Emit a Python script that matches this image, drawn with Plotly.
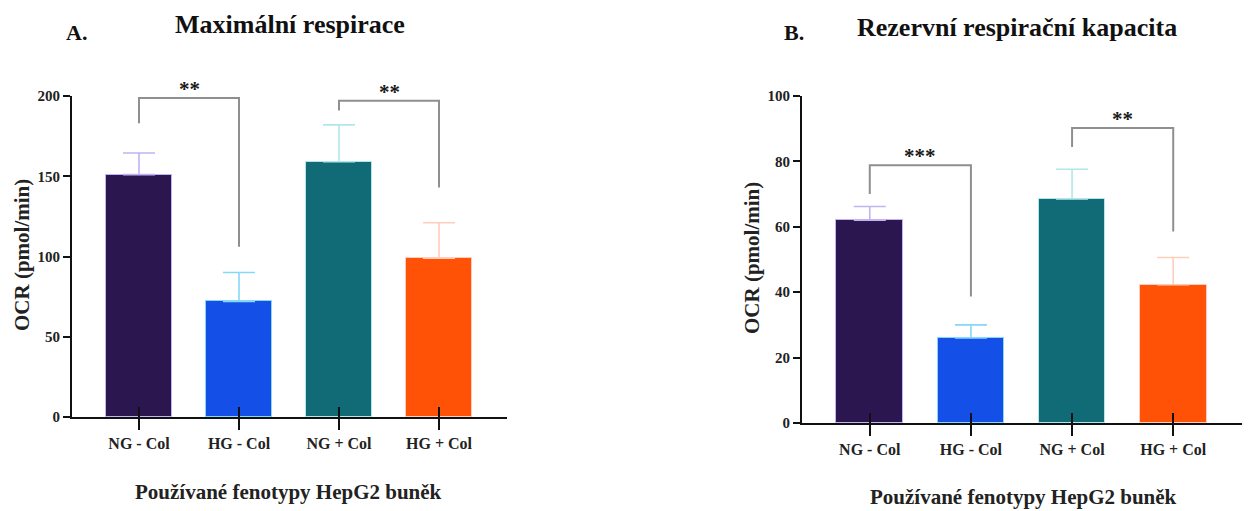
import plotly.graph_objects as go

# ---------------- data ----------------
categories = ["NG - Col", "HG - Col", "NG + Col", "HG + Col"]
max_resp_mean = [151, 72, 159, 99]
max_resp_err = [13.5, 18, 23, 22]
reserve_mean = [62, 26, 68.5, 42.3]
reserve_err = [4.2, 4, 9.1, 8.3]

bar_colors = ["#2c1650", "#1450e8", "#106b76", "#ff5206"]
err_colors = ["#c2b3f2", "#86d8f8", "#b2e6ee", "#ffcdbb"]

# significance brackets: (left idx, right idx, top, left-leg bottom, right-leg bottom, stars)
sig_A = [(0, 1, 198.8, 183, 106, "**"), (2, 3, 197, 191, 143, "**")]
sig_B = [(0, 1, 78.8, 70, 38.7, "***"), (2, 3, 90.2, 84.4, 58.6, "**")]

titles = ["Maximální respirace", "Rezervní respirační kapacita"]
panel_labels = ["A.", "B."]
y_title = "OCR (pmol/min)"
x_title = "Používané fenotypy HepG2 buněk"

FONT = "Liberation Serif"
xpos = list(range(len(categories)))

fig = go.Figure()

panels = [
    dict(mean=max_resp_mean, err=max_resp_err, sig=sig_A, xa="x", ya="y", xa2="x3"),
    dict(mean=reserve_mean, err=reserve_err, sig=sig_B, xa="x2", ya="y2", xa2="x4"),
]

for p in panels:
    for i, cat in enumerate(categories):
        fig.add_trace(go.Bar(
            x=[xpos[i]], y=[p["mean"][i]], width=0.66,
            marker=dict(color=bar_colors[i], line=dict(color=err_colors[i], width=1)),
            error_y=dict(type="data", array=[p["err"][i]], arrayminus=[0], symmetric=False,
                         color=err_colors[i], thickness=1.6, width=16),
            xaxis=p["xa"], yaxis=p["ya"], showlegend=False, hoverinfo="skip",
        ))
    # invisible trace for overlay axis (inside half of crossing ticks)
    fig.add_trace(go.Scatter(x=xpos, y=[0] * len(xpos), mode="markers", marker=dict(opacity=0),
                             xaxis=p["xa2"], yaxis=p["ya"], showlegend=False, hoverinfo="skip"))
    for (l, r, top, lb, rb, stars) in p["sig"]:
        fig.add_trace(go.Scatter(
            x=[xpos[l], xpos[l], xpos[r], xpos[r]], y=[lb, top, top, rb],
            mode="lines", line=dict(color="#8f8f8f", width=2),
            xaxis=p["xa"], yaxis=p["ya"], showlegend=False, hoverinfo="skip", cliponaxis=False,
        ))
        fig.add_annotation(x=(xpos[l] + xpos[r]) / 2, y=top, xref=p["xa"], yref=p["ya"],
                           text="<b>" + stars + "</b>", showarrow=False, yanchor="middle",
                           yshift=9, font=dict(family=FONT, size=21, color="#1a1a1a"))

xr = [-0.67, 3.68]
common_x = dict(range=xr, showgrid=False, zeroline=False, showline=True, linecolor="#111",
                linewidth=2, tickvals=xpos, ticktext=categories, ticks="outside", ticklen=11,
                tickwidth=2, tickcolor="#111", automargin=False,
                tickfont=dict(family=FONT, size=16, color="#222", weight="bold"))
common_x2 = dict(range=xr, showgrid=False, zeroline=False, showline=False, tickvals=xpos,
                 showticklabels=False, ticks="inside", ticklen=10, tickwidth=2, tickcolor="#111",
                 automargin=False)
common_y = dict(showgrid=False, zeroline=False, showline=True, linecolor="#111", linewidth=2,
                ticks="outside", ticklen=7, tickwidth=2, tickcolor="#111", automargin=False,
                tickfont=dict(family=FONT, size=15, color="#222", weight="bold"))

fig.update_layout(
    width=1248, height=511, margin=dict(l=0, r=0, t=0, b=0, autoexpand=False),
    paper_bgcolor="white", plot_bgcolor="white", bargap=0,
    xaxis=dict(domain=[72 / 1248, 507 / 1248], anchor="y", **common_x),
    xaxis3=dict(domain=[72 / 1248, 507 / 1248], anchor="y", overlaying="x", **common_x2),
    yaxis=dict(domain=[1 - 417 / 511, 1 - 96 / 511], anchor="x", range=[0, 200],
               dtick=50, **common_y),
    xaxis2=dict(domain=[802 / 1248, 1242 / 1248], anchor="y2", **common_x),
    xaxis4=dict(domain=[802 / 1248, 1242 / 1248], anchor="y2", overlaying="x2", **common_x2),
    yaxis2=dict(domain=[1 - 423 / 511, 1 - 96 / 511], anchor="x2", range=[0, 100],
                dtick=20, **common_y),
)

def px(xp, yp):
    return xp / 1248, 1 - yp / 511

# titles, panel labels, axis titles
for (tx, ty), t in zip([(290, 25), (1017, 27)], titles):
    x, y = px(tx, ty)
    fig.add_annotation(x=x, y=y, xref="paper", yref="paper", text="<b>" + t + "</b>",
                       showarrow=False, xanchor="center", yanchor="middle",
                       font=dict(family=FONT, size=26, color="#111"))
for (tx, ty), t in zip([(76, 33), (794, 33)], panel_labels):
    x, y = px(tx, ty)
    fig.add_annotation(x=x, y=y, xref="paper", yref="paper", text="<b>" + t + "</b>",
                       showarrow=False, xanchor="center", yanchor="middle",
                       font=dict(family=FONT, size=22, color="#111"))
for (tx, ty) in [(22, 255), (752, 258)]:
    x, y = px(tx, ty)
    fig.add_annotation(x=x, y=y, xref="paper", yref="paper", text="<b>" + y_title + "</b>",
                       showarrow=False, textangle=-90, xanchor="center", yanchor="middle",
                       font=dict(family=FONT, size=21, color="#222"))
for (tx, ty) in [(288, 492), (1023, 497)]:
    x, y = px(tx, ty)
    fig.add_annotation(x=x, y=y, xref="paper", yref="paper", text="<b>" + x_title + "</b>",
                       showarrow=False, xanchor="center", yanchor="middle",
                       font=dict(family=FONT, size=21, color="#222"))

fig.write_html("out.html")
